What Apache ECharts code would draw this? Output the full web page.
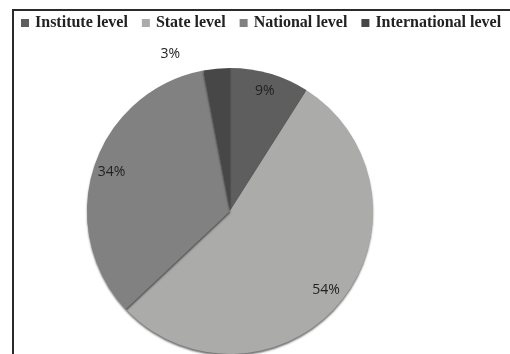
<!DOCTYPE html>
<html><head><meta charset="utf-8">
<script src="https://cdn.jsdelivr.net/npm/echarts@6/dist/echarts.min.js"></script>
<style>html,body{margin:0;padding:0;background:#fff}#c{width:510px;height:354px}</style>
</head><body><div id="c"></div>
<script>
const categories = ['Institute level', 'State level', 'National level', 'International level'];
const values = [9, 54, 34, 3];
const colors = ['#5e5e5e', '#abacaa', '#818181', '#474747'];

const chart = echarts.init(document.getElementById('c'), null, {renderer: 'canvas'});
const center = [230, 211];
const R = 143;
const labelFont = {fontFamily: 'Open Sans', fontSize: 14, color: '#222'};

chart.setOption({
  animation: false,
  color: colors,
  graphic: [{
    type: 'rect', silent: true, z: -1,
    shape: {x: 13, y: 10, width: 520, height: 360},
    style: {fill: 'none', stroke: '#2a2a2a', lineWidth: 2}
  }],
  legend: {
    top: 10, left: 16,
    itemWidth: 8, itemHeight: 8, itemGap: 14,
    icon: 'rect',
    textStyle: {fontFamily: 'Liberation Serif', fontWeight: 'bold', fontSize: 16, color: '#222', padding: [0, 0, 0, 1]},
    data: categories
  },
  series: [{
    type: 'pie',
    center: center,
    radius: [0, R],
    startAngle: 90,
    clockwise: true,
    itemStyle: {shadowColor: 'rgba(0,0,0,0.55)', shadowBlur: 2, shadowOffsetY: 2},
    data: categories.map((n, i) => ({
      name: n, value: values[i],
      label: values[i] < 5
        ? {show: true, position: 'outside', distance: 0, ...labelFont, formatter: '{c}%'}
        : {show: false},
      labelLine: {show: false}
    }))
  }, {
    type: 'pie',
    center: center,
    radius: [R * 0.7, R],
    startAngle: 90,
    clockwise: true,
    silent: true,
    legendHoverLink: false,
    itemStyle: {color: 'rgba(0,0,0,0)'},
    label: {show: true, position: 'inside', ...labelFont, formatter: '{c}%'},
    labelLine: {show: false},
    data: categories.map((n, i) => ({
      name: n, value: values[i],
      label: {show: values[i] >= 5}
    }))
  }]
});
</script></body></html>
